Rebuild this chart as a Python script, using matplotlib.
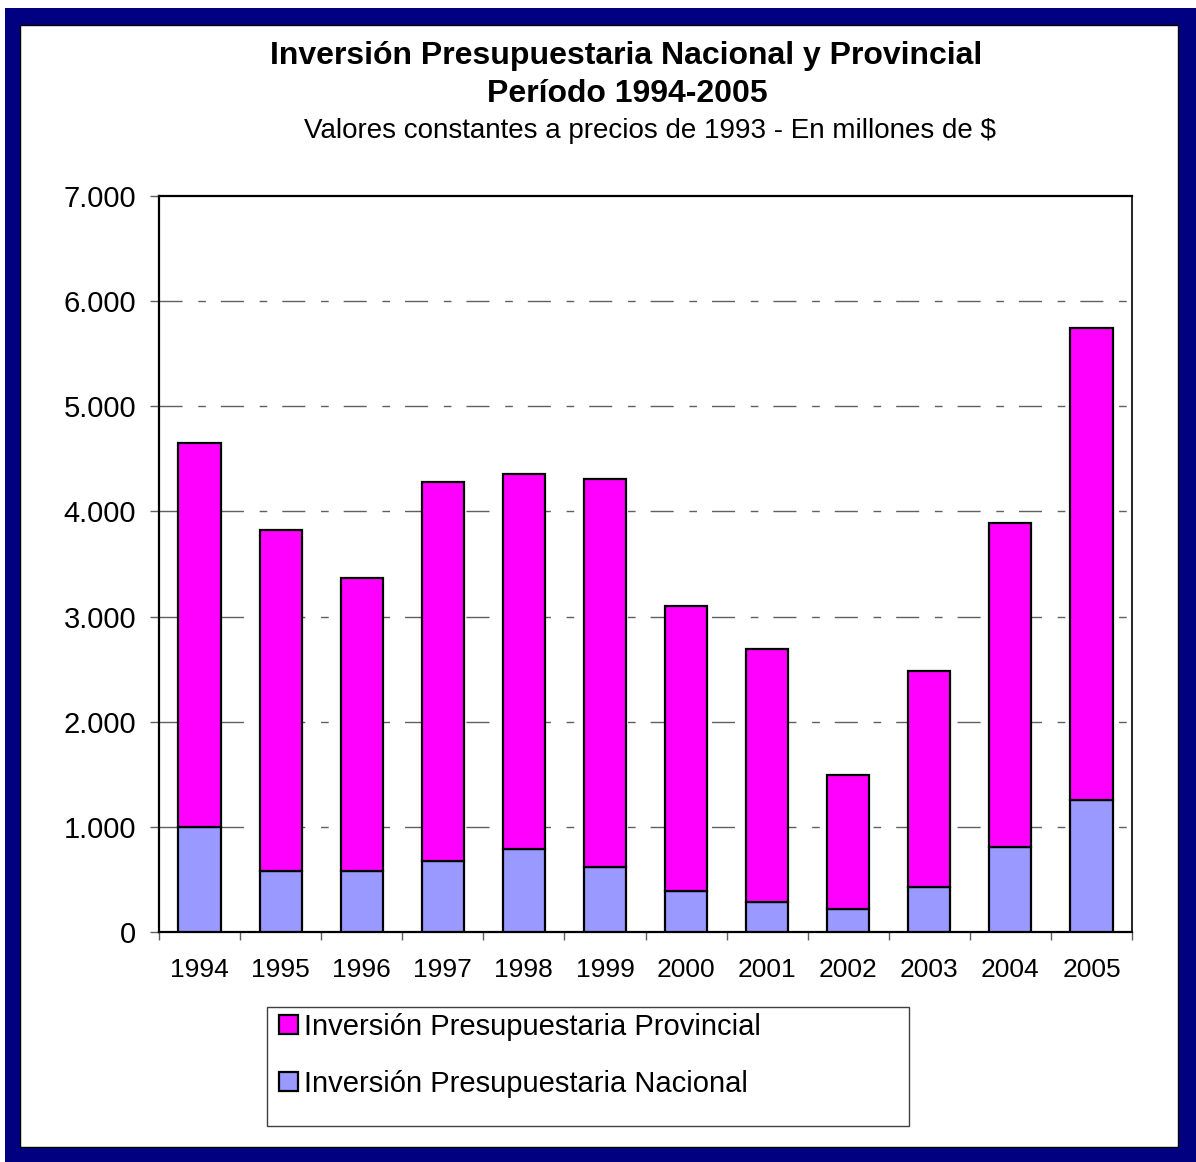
import numpy as np
import matplotlib
matplotlib.use('Agg')
import matplotlib.pyplot as plt
from matplotlib.patches import Rectangle
from matplotlib.ticker import FuncFormatter, FixedLocator

plt.rcParams['font.family'] = ['Liberation Sans', 'DejaVu Sans']

years = ['1994', '1995', '1996', '1997', '1998', '1999',
         '2000', '2001', '2002', '2003', '2004', '2005']
total = [4650, 3820, 3367, 4277, 4352, 4305, 3100, 2688, 1493, 2485, 3890, 5742]
nacional = [1000, 580, 580, 678, 786, 621, 393, 282, 216, 425, 810, 1255]
provincial = [t - n for t, n in zip(total, nacional)]
yticks = [0, 1000, 2000, 3000, 4000, 5000, 6000, 7000]

title1 = 'Inversión Presupuestaria Nacional y Provincial'
title2 = 'Período 1994-2005'
subtitle = 'Valores constantes a precios de 1993 - En millones de $'
lab_prov = 'Inversión Presupuestaria Provincial'
lab_nac = 'Inversión Presupuestaria Nacional'

W, H = 1196, 1162
fig = plt.figure(figsize=(W / 100, H / 100), dpi=100)

################################################################################
# navy frame
################################################################################
fig.patches.append(Rectangle((5 / W, 0), 1 - 5 / W, 1 - 8 / H, transform=fig.transFigure,
                             facecolor='#000080', edgecolor='none', zorder=-2))
fig.patches.append(Rectangle((20 / W, 15 / H), (1178 - 20) / W, (1147 - 25) / H,
                             transform=fig.transFigure, facecolor='white',
                             edgecolor='black', linewidth=1, zorder=-1))

################################################################################
# titles
################################################################################
fig.text(626 / W, 1 - 56 / H, title1, ha='center', va='center', fontsize=23, fontweight='bold')
fig.text(627 / W, 1 - 94 / H, title2, ha='center', va='center', fontsize=23, fontweight='bold')
fig.text(650 / W, 1 - 131 / H, subtitle, ha='center', va='center', fontsize=20)

################################################################################
# stacked bars
################################################################################
ax = fig.add_axes([159 / W, 1 - 932 / H, (1132 - 159) / W, (932 - 196) / H])
x = np.arange(len(years))
b_nac = ax.bar(x, nacional, width=0.52, color='#9999FF', edgecolor='black', linewidth=1.6,
               zorder=3, label=lab_nac)
b_prov = ax.bar(x, provincial, width=0.52, bottom=nacional, color='#FF00FF',
                edgecolor='black', linewidth=1.6, zorder=3, label=lab_prov)

ax.set_xlim(-0.5, len(years) - 0.5)
ax.set_ylim(0, 7000)
ax.set_yticks(yticks)
ax.yaxis.set_major_formatter(FuncFormatter(lambda v, p: '{:,.0f}'.format(v).replace(',', '.')))
ax.tick_params(axis='y', labelsize=21, length=6.5, width=1, color='#606060', pad=10)

ax.set_xticks(x)
ax.set_xticklabels(years)
ax.xaxis.set_minor_locator(FixedLocator(np.arange(-0.5, len(years), 1.0)))
ax.tick_params(axis='x', which='major', length=0, labelsize=19, pad=19)
ax.tick_params(axis='x', which='minor', length=6, width=1, color='#606060')

for g in yticks[1:-1]:
    ax.axhline(g, color='#606060', linewidth=1, dashes=(16.6, 11.3, 5.5, 10.8), zorder=1)

for s in ax.spines.values():
    s.set_color('black')
    s.set_linewidth(1.6)
ax.spines['right'].set_linewidth(1.2)

################################################################################
# legend
################################################################################
fig.patches.append(Rectangle((267 / W, 1 - 1126 / H), (909 - 267) / W, (1126 - 1007) / H,
                             transform=fig.transFigure, facecolor='white',
                             edgecolor='#404040', linewidth=1, zorder=0))
leg = fig.legend([b_prov, b_nac], [lab_prov, lab_nac], loc='upper left',
                 bbox_to_anchor=(273 / W, 1 - 1007 / H), fontsize=21, frameon=False,
                 handlelength=0.65, handleheight=0.65, handletextpad=0.2,
                 labelspacing=1.0, borderpad=0.2, borderaxespad=0)

fig.savefig('out.png', dpi=100)
